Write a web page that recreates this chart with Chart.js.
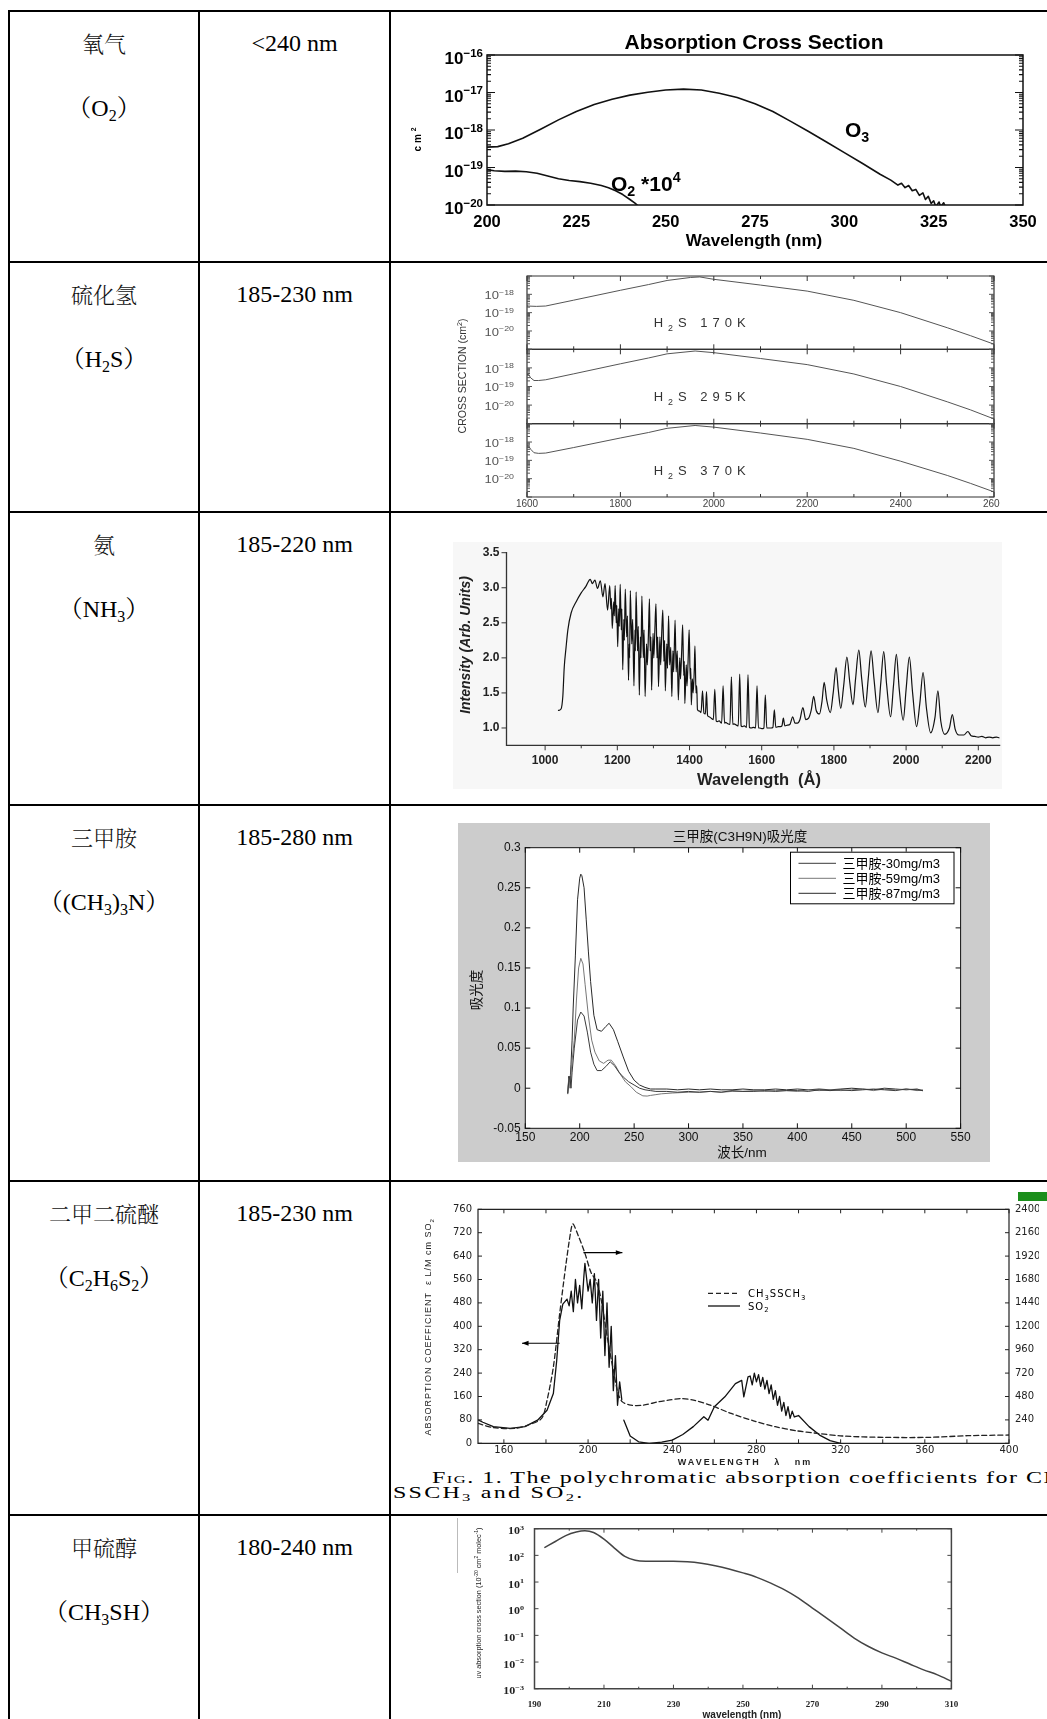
<!DOCTYPE html>
<html><head><meta charset="utf-8">
<script src="https://cdn.jsdelivr.net/npm/chart.js@4.4.1/dist/chart.umd.min.js"></script>
<style>
html,body{margin:0;padding:0;background:#fff;}
body{width:1047px;height:1719px;position:relative;overflow:hidden;}
.hl{position:absolute;left:8px;width:1100px;height:2px;background:#000;}
.vl{position:absolute;top:10px;width:2px;height:1720px;background:#000;}
.t{position:absolute;text-align:center;white-space:nowrap;line-height:30px;height:30px;}
.c1{left:10px;width:188px;}
.c2{left:200px;width:189px;}
.cn{font-family:"Noto Serif CJK SC","Noto Sans CJK SC";font-size:22px;font-weight:300;color:#111;}
.fm{font-family:"Liberation Serif","Noto Serif CJK SC","Noto Sans CJK SC";font-size:24px;color:#000;}
.fm sub{font-size:16px;vertical-align:-5px;line-height:0;}
.cap{position:absolute;font-family:"Liberation Serif";font-size:16px;letter-spacing:1.5px;transform:scaleX(1.5);transform-origin:0 0;white-space:nowrap;line-height:18px;color:#000;}
.cap sub{font-size:11px;vertical-align:-3px;line-height:0;}
canvas{position:absolute;}
</style></head><body>
<div id="grid"></div>
<script>
// ---------------- table content ----------------
const gasNames = ['氧气','硫化氢','氨','三甲胺','二甲二硫醚','甲硫醇'];
const gasFormulas = ['（O_{2}）','（H_{2}S）','（NH_{3}）','（(CH_{3})_{3}N）','（C_{2}H_{6}S_{2}）','（CH_{3}SH）'];
const bandRanges = ['<240 nm','185-230 nm','185-220 nm','185-280 nm','185-230 nm','180-240 nm'];

// ---------------- chart data ----------------
// O3 / O2 absorption cross section (cm^2) vs wavelength (nm)
const o3Cross = [[200,3.5e-19],[203,3.6e-19],[206,4.3e-19],[210,6.0e-19],[215,1.05e-18],[220,1.86e-18],[225,3.1e-18],[230,4.8e-18],[235,6.6e-18],[240,8.5e-18],[245,1.02e-17],[250,1.17e-17],[255,1.23e-17],[260,1.17e-17],[265,9.6e-18],[270,7.4e-18],[275,5.0e-18],[280,3.1e-18],[285,1.7e-18],[290,9.1e-19],[295,4.8e-19],[300,2.5e-19],[305,1.3e-19],[310,6.6e-20],[313,4.6e-20],[315,3.4e-20],[316,3.8e-20],[317,2.9e-20],[318,3.3e-20],[319,2.4e-20],[320,2.6e-20],[321,1.8e-20],[322,2.1e-20],[322.7,1.4e-20],[323.5,1.7e-20],[324.3,1.1e-20],[325,1.3e-20],[325.6,9e-21],[326.5,1.2e-20],[327,9e-21],[327.8,1.15e-20],[328.3,9e-21]];
const o2Cross = [[200,8.8e-20],[202,8.2e-20],[205,7.9e-20],[208,8.0e-20],[211,7.7e-20],[214,7.0e-20],[217,5.9e-20],[220,5.0e-20],[223,4.5e-20],[226,4.2e-20],[229,3.8e-20],[232,3.3e-20],[234,2.9e-20],[236,2.4e-20],[238,1.9e-20],[240,1.4e-20],[241.5,1.1e-20],[242.5,9e-21]];
const o2XTicks = [200,225,250,275,300,325,350];
const o2YTicks = [1e-20,1e-19,1e-18,1e-17,1e-16];

// H2S cross section (cm^2) vs wavelength (Å), three temperatures
const h2s170 = [[1600,2.3e-19],[1620,2.2e-19],[1640,2.3e-19],[1700,4.8e-19],[1800,1.66e-18],[1860,3.4e-18],[1900,5.7e-18],[1950,8.3e-18],[1970,8.9e-18],[2000,6.6e-18],[2100,3.2e-18],[2200,1.5e-18],[2300,4.7e-19],[2400,1.0e-19],[2500,1.5e-20],[2550,5.5e-21],[2600,1.9e-21]];
const h2s295 = [[1600,4.3e-19],[1603,4.6e-19],[1608,2.9e-19],[1615,2.1e-19],[1625,2.1e-19],[1640,2.3e-19],[1700,4.8e-19],[1800,1.66e-18],[1860,3.4e-18],[1900,5.7e-18],[1960,8.1e-18],[2000,6.6e-18],[2100,3.2e-18],[2200,1.5e-18],[2300,4.7e-19],[2400,1.0e-19],[2500,1.5e-20],[2550,5.5e-21],[2600,1.8e-21]];
const h2s370 = [[1600,6.0e-19],[1603,6.3e-19],[1608,4.0e-19],[1615,2.6e-19],[1625,2.4e-19],[1640,2.5e-19],[1700,5.0e-19],[1800,1.66e-18],[1860,3.3e-18],[1900,5.6e-18],[1960,8.0e-18],[2000,6.5e-18],[2100,3.1e-18],[2200,1.4e-18],[2300,4.5e-19],[2400,9.0e-20],[2500,1.5e-20],[2550,5.5e-21],[2600,1.9e-21]];
const h2sLabels = ['H_{2}S 170K','H_{2}S 295K','H_{2}S 370K'];
const h2sXTicks = [1600,1700,1800,1900,2000,2100,2200,2300,2400,2500,2600];
const h2sYTicks = [1e-21,1e-20,1e-19,1e-18,1e-17];

// NH3 lamp intensity (arb.) vs wavelength (Å)
const nh3Intensity = [[1037,1.25],[1044,1.27],[1049,1.45],[1053,1.87],[1058,2.15],[1063,2.40],[1072,2.64],[1086,2.80],[1099,2.92],[1113,3.02],[1125,3.12],
[1131,3.06],[1138,3.11],[1145,2.99],[1153,3.10],[1160,2.87],[1166,3.06],[1173,2.68],[1179,3.03],[1182,2.7],[1183.5,2.85],[1186,2.42],[1190,2.8],[1191.5,2.6],[1194,3.03],[1197,2.5],[1198.5,2.75],[1201,2.16],[1204,2.7],[1205.5,2.45],[1208,3.05],[1211,2.4],[1212.5,2.7],[1215,1.83],[1218,2.55],[1219.5,2.25],[1222,2.98],[1226,2.3],[1228,2.6],[1231,1.68],[1233,2.2],[1234,2.0],[1236,2.96],[1240,2.2],[1242.5,2.55],[1246,1.60],[1249,2.4],[1250,2.1],[1252,2.94],[1256,2.1],[1258,2.45],[1261,1.47],[1264,2.3],[1265.5,2.0],[1268,2.88],[1272,2.0],[1274,2.4],[1277,1.45],[1281,2.2],[1283,1.9],[1286,2.3],[1289,2.84],[1291,2.1],[1293,2.3],[1295,1.54],[1299,2.35],[1301,2.0],[1304,2.4],[1307,2.77],[1310,2.0],[1312,2.3],[1314,1.59],[1318,2.3],[1320,1.9],[1323,2.35],[1326,2.68],[1329,1.95],[1331,2.25],[1333,1.53],[1337,2.2],[1339,1.85],[1342,2.60],[1345,1.9],[1348,2.15],[1351,1.45],[1354,2.1],[1356,1.8],[1360,2.54],[1363,1.8],[1366,2.1],[1369,1.40],[1373,2.0],[1375,1.7],[1378,2.05],[1381,2.47],[1384,1.75],[1385.5,1.95],[1387,1.35],[1391,1.9],[1393,1.6],[1396,1.95],[1399,2.40],[1402,1.7],[1403.5,1.85],[1405,1.33],[1408,1.7],[1410,1.5],[1413,1.8],[1415,2.17],[1418,1.5],[1420,1.6],[1422,1.26],
[1428,1.24],[1432,1.22],[1436,1.53],[1440,1.21],[1444,1.20],[1447,1.52],[1450,1.18],[1454,1.16],[1460,1.14],[1466,1.12],[1470,1.55],[1474,1.10],[1477,1.09],[1482,1.10],[1489,1.07],[1493,1.60],[1497,1.07],[1500,1.08],[1506,1.06],[1512,1.05],[1516,1.73],[1520,1.05],[1523,1.06],[1530,1.04],[1535,1.03],[1539,1.77],[1543,1.03],[1546,1.02],[1552,1.03],[1558,1.01],[1562,1.76],[1566,1.01],[1571,1.00],[1577,1.01],[1583,1.00],[1587,1.60],[1591,1.00],[1594,1.00],[1600,0.99],[1606,1.00],[1610,1.47],[1614,1.00],[1619,1.00],[1626,1.00],[1631,1.01],[1635,1.26],[1639,1.01],[1646,1.02],[1652,1.02],[1656,1.03],[1660,1.14],[1664,1.03],[1671,1.04],[1678,1.05],[1686,1.16],[1692,1.07],[1699,1.07],
[1706,1.12],[1714,1.29],[1722,1.12],[1730,1.14],[1737,1.25],[1744,1.45],[1751,1.25],[1760,1.20],[1767,1.38],[1773,1.65],[1780,1.40],[1790,1.22],[1798,1.50],[1806,1.86],[1812,1.55],[1819,1.28],[1827,1.60],[1836,2.01],[1844,1.65],[1853,1.33],[1860,1.70],[1869,2.11],[1877,1.70],[1887,1.30],[1895,1.70],[1903,2.10],[1911,1.70],[1922,1.22],[1930,1.65],[1938,2.09],[1946,1.62],[1957,1.16],[1965,1.60],[1973,2.05],[1981,1.55],[1992,1.11],[2000,1.55],[2009,2.01],[2018,1.50],[2029,1.02],[2038,1.35],[2047,1.79],[2056,1.30],[2068,0.93],[2080,1.15],[2088,1.53],[2096,1.10],[2107,0.91],[2120,1.00],[2128,1.19],[2136,0.98],[2146,0.90],[2160,0.90],[2171,0.95],[2180,0.89],[2190,0.88],[2200,0.87],[2210,0.88],[2220,0.86],[2230,0.87],[2240,0.86],[2250,0.87],[2258,0.86]];
const nh3XTicks = [1000,1100,1200,1300,1400,1500,1600,1700,1800,1900,2000,2100,2200];
const nh3YTicks = [1.0,1.5,2.0,2.5,3.0,3.5];

// Trimethylamine absorbance vs wavelength (nm)
const tma30 = [[189,-0.007],[190,0.01],[191,0.015],[192,0.0],[193,0.02],[195,0.05],[198,0.085],[201,0.095],[204,0.09],[207,0.07],[210,0.045],[213,0.03],[216,0.022],[220,0.022],[224,0.027],[228,0.033],[232,0.028],[236,0.02],[240,0.014],[245,0.008],[250,0.004],[255,0.0],[260,-0.002],[265,-0.003],[270,-0.004],[280,-0.004],[290,-0.005],[300,-0.004],[310,-0.005],[320,-0.004],[330,-0.005],[340,-0.003],[350,-0.004],[360,-0.004],[370,-0.003],[380,-0.004],[390,-0.003],[400,-0.003],[410,-0.004],[420,-0.002],[430,-0.003],[440,-0.002],[450,-0.003],[460,-0.002],[470,-0.001],[480,-0.002],[490,-0.003],[500,-0.001],[510,-0.002],[515,-0.003]];
const tma59 = [[189,-0.005],[190,0.012],[191,0.0],[192,0.018],[193,0.035],[195,0.06],[197,0.11],[199,0.15],[201,0.162],[203,0.155],[205,0.129],[208,0.09],[211,0.06],[214,0.045],[218,0.034],[222,0.031],[226,0.035],[229,0.035],[233,0.028],[237,0.018],[242,0.008],[247,0.002],[252,-0.005],[258,-0.0095],[262,-0.0098],[265,-0.009],[270,-0.008],[275,-0.007],[285,-0.006],[300,-0.005],[310,-0.005],[320,-0.004],[330,-0.005],[340,-0.004],[350,-0.004],[360,-0.003],[370,-0.004],[380,-0.003],[390,-0.003],[400,-0.004],[410,-0.002],[420,-0.003],[430,-0.002],[440,-0.003],[450,-0.002],[460,-0.001],[470,-0.003],[480,-0.001],[490,-0.002],[500,-0.001],[510,-0.003],[515,-0.002]];
const tma87 = [[189,-0.006],[190,0.015],[191,0.005],[192,0.03],[193,0.06],[194,0.10],[196,0.165],[198,0.235],[200,0.262],[201,0.267],[202,0.265],[204,0.25],[206,0.21],[208,0.17],[210,0.133],[213,0.091],[216,0.073],[220,0.071],[224,0.077],[227,0.081],[231,0.073],[235,0.058],[240,0.039],[245,0.021],[250,0.01],[255,0.004],[260,0.001],[265,-0.001],[270,-0.001],[280,-0.001],[290,-0.002],[300,-0.001],[310,-0.002],[320,-0.001],[330,-0.002],[340,-0.002],[350,-0.001],[360,-0.002],[370,-0.002],[380,-0.001],[390,-0.002],[400,-0.001],[410,-0.002],[420,-0.001],[430,-0.002],[440,-0.001],[450,0.0],[460,-0.001],[470,-0.002],[480,0.0],[490,-0.001],[500,-0.002],[510,-0.001],[515,-0.003]];
const tmaLabels = ['三甲胺-30mg/m3','三甲胺-59mg/m3','三甲胺-87mg/m3'];
const tmaXTicks = [150,200,250,300,350,400,450,500,550];
const tmaYTicks = [-0.05,0,0.05,0.1,0.15,0.2,0.25,0.3];

// Dimethyl disulfide (right axis) and SO2 (left axis) absorption coefficients vs wavelength (nm)
const dmdsCoef = [[147.7,204],[154.6,163],[165,153],[171.5,187],[177.9,255],[180.5,442],[183.5,782],[186.5,1327],[189.5,1837],[191.8,2177],[192.8,2251],[195.4,2126],[198.4,1956],[201.4,1752],[203.8,1667],[206,1497],[209.4,1054],[212.3,714],[214.3,510],[216.3,425],[220.3,391],[226.3,391],[233.2,425],[238.2,442],[244.2,459],[250.1,442],[258.1,391],[268,306],[278.6,231],[289,170],[298.9,129],[308.9,102],[320.8,75],[340.7,61],[361.6,61],[380.5,78],[400,85]];
const so2Coef = [[148,79],[150,72],[155,57],[163,51],[170,57],[176,79],[180.5,113],[183.5,170],[185.1,283],[186.5,420],[188,476],[190,493],[191,470],[192,520],[193,450],[194,560],[195,480],[196,540],[197,460],[198,570],[198.5,615],[200,520],[201,560],[202,480],[203,580],[204,420],[205,560],[206,360],[207,520],[208,300],[209,480],[210,260],[211,400],[212,180],[213,300],[214,130],[215,210],[216,150],[216.5,null],[217,79],[220,25],[224,5],[229,0],[235,4],[240,11],[245,30],[250,57],[255,91],[257,79],[260,125],[265,159],[270,204],[273,215],[274,159],[276,227],[277,230],[278,200],[279,240],[280,210],[281,235],[282,195],[283,225],[284,185],[285,215],[286,170],[287,200],[288,150],[289,180],[290,130],[291,160],[292,110],[293,140],[294,95],[295,125],[296,85],[297,110],[298,90],[300,95],[305,57],[310,28],[315,9],[320,0]];
const dmdsSeriesLabels = ['CH_{3}SSCH_{3}','SO_{2}'];
const dmdsXTicks = [160,180,200,220,240,260,280,300,320,340,360,380,400];
const dmdsLeftTicks = [0,80,160,240,320,400,480,560,640,720,800];
const dmdsLeftLabels = ['0','80','160','240','320','400','480','560','640','720','760'];
const dmdsRightTicks = [0,240,480,720,960,1200,1440,1680,1920,2160,2400];

// CH3SH UV absorption cross section (1e-20 cm^2 molec^-1) vs wavelength (nm)
const ch3shCross = [[193,200],[196,331],[199,550],[202,750],[204.5,841],[207,724],[210,407],[213,188],[216,91],[219,65],[222,60],[226,60],[230,60],[234,58],[238,51],[242,41],[246,31],[250,22],[254,15],[258,9.1],[262,5.1],[266,2.5],[270,1.06],[274,0.45],[278,0.19],[282,0.079],[286,0.039],[290,0.022],[294,0.014],[298,0.0084],[302,0.0051],[306,0.0033],[310,0.0019]];
const ch3shXTicks = [190,200,210,220,230,240,250,260,270,280,290,300,310];
const ch3shYTicks = [1e-3,1e-2,1e-1,1,10,100,1000];

// ---------------- table layout ----------------
const rowLines = [10,261,511,804,1180,1514];
const colLines = [8,198,389];
function richHTML(s){ return s.replace(/</g,'&lt;').replace(/_\{([^}]*)\}/g,'<sub>$1</sub>'); }
(function(){
  const g = document.getElementById('grid');
  let h = '';
  rowLines.forEach(y => { h += `<div class="hl" style="top:${y}px"></div>`; });
  colLines.forEach(x => { h += `<div class="vl" style="left:${x}px"></div>`; });
  rowLines.forEach((y,i) => {
    h += `<div class="t c1 cn" style="top:${y+18}px">${gasNames[i]}</div>`;
    h += `<div class="t c2 fm" style="top:${y+18}px">${richHTML(bandRanges[i])}</div>`;
    h += `<div class="t c1 fm" style="top:${y+83}px">${richHTML(gasFormulas[i])}</div>`;
  });
  h += `<div class="cap" style="left:432px;top:1469px;letter-spacing:1px;">F<span style="font-variant:small-caps">ig</span>. 1. The polychromatic absorption coefficients for CH</div>`;
  h += `<div class="cap" style="left:393px;top:1484px;">SSCH<sub>3</sub> and SO<sub>2</sub>.</div>`;
  h += `<div style="position:absolute;left:1018px;top:1192px;width:29px;height:9px;background:#1b8e1b"></div>`;
  h += `<div style="position:absolute;left:457px;top:1518px;width:1px;height:55px;background:#bbb"></div>`;
  g.innerHTML = h;
})();

// ---------------- helpers ----------------
const FS = '"Liberation Sans", Arial, sans-serif';
const FN = '"Liberation Sans Narrow", "Liberation Sans", sans-serif';
const FC = '"Liberation Sans", "Noto Sans CJK SC", sans-serif';
const FD = '"DejaVu Sans", sans-serif';
const FSer = '"Liberation Serif", serif';
const xy = arr => arr.map(p => ({x: p[0], y: p[1]}));
const expOf = v => Math.round(Math.log10(v));
const pow10Rich = v => '10^{' + String(expOf(v)).replace('-', '−') + '}';
const isPow10 = v => Math.abs(Math.log10(v) - Math.round(Math.log10(v))) < 1e-6;
function logTicks(majors){ const out = majors.slice(); for (let i=0;i<majors.length-1;i++) for (let k=2;k<10;k++) out.push(majors[i]*k); return out; }
function ticksFrom(values, majorTest){ return s => { s.ticks = values.slice().sort((a,b)=>a-b).map(v => ({value:v, major: majorTest ? !!majorTest(v) : true})); }; }
function fixY(w){ return s => { s.width = w; s.paddingTop = 0; s.paddingBottom = 0; }; }
function fixX(h){ return s => { s.height = h; s.paddingLeft = 0; s.paddingRight = 0; }; }
function tk(o, cb){ return {autoSkip:false, maxRotation:0, minRotation:0, padding:o.padding||0, color:o.color||'#000', font:{family:o.family||FS, size:o.size||12, weight:o.weight||'normal', style:o.style||'normal'}, callback:cb}; }
function axis(o){ return Object.assign({grid:{display:false, drawTicks:false}, border:{display:false}}, o); }
const noLabel = () => '';

function parseRich(s){
  const segs = []; let i = 0, buf = '';
  while (i < s.length) {
    const c = s[i];
    if ((c === '_' || c === '^') && s[i+1] === '{') {
      if (buf) { segs.push({t:buf, m:0}); buf=''; }
      const j = s.indexOf('}', i);
      segs.push({t:s.slice(i+2,j), m: c === '_' ? 1 : -1});
      i = j + 1;
    } else { buf += c; i++; }
  }
  if (buf) segs.push({t:buf, m:0});
  return segs;
}
function drawRich(ctx, s, x, y, o){
  const size = o.size || 12, fam = o.family || FS, w = o.weight || 'normal', st = o.style || 'normal';
  const f = sz => `${st} ${w} ${sz}px ${fam}`;
  const segs = parseRich(s);
  ctx.save();
  ctx.translate(x, y);
  if (o.rotate) ctx.rotate(o.rotate);
  if (o.sx) ctx.scale(o.sx, 1);
  ctx.fillStyle = o.color || '#000';
  ctx.textBaseline = 'alphabetic'; ctx.textAlign = 'left';
  if ('letterSpacing' in ctx) ctx.letterSpacing = (o.ls || 0) + 'px';
  let total = 0;
  segs.forEach(g => { ctx.font = f(g.m ? size*0.68 : size); g.w = ctx.measureText(g.t).width; total += g.w; });
  let cx = o.align === 'left' ? 0 : (o.align === 'right' ? -total : -total/2);
  const base = size * 0.36;
  segs.forEach(g => {
    ctx.font = f(g.m ? size*0.68 : size);
    const dy = g.m === 1 ? size*0.28 : (g.m === -1 ? -size*0.42 : 0);
    ctx.fillText(g.t, cx, base + dy);
    cx += g.w;
  });
  ctx.restore();
}

const decoMap = new Map();
const deco = {
  id: 'deco',
  beforeDraw(chart){
    const o = decoMap.get(chart.canvas); if (!o) return;
    const ctx = chart.ctx, a = chart.chartArea;
    ctx.save();
    if (o.canvasBg) { ctx.fillStyle = o.canvasBg; ctx.fillRect(0,0,chart.width,chart.height); }
    (o.rects||[]).forEach(r => { ctx.fillStyle = r.color; ctx.fillRect(r.x1-o.ox, r.y1-o.oy, r.x2-r.x1, r.y2-r.y1); });
    if (o.plotBg) { ctx.fillStyle = o.plotBg; ctx.fillRect(a.left, a.top, a.right-a.left, a.bottom-a.top); }
    ctx.restore();
  },
  afterDraw(chart){
    const o = decoMap.get(chart.canvas); if (!o) return;
    const ctx = chart.ctx, a = chart.chartArea;
    if (o.frame) {
      const f = o.frame, sides = f.sides || ['left','right','top','bottom'];
      ctx.save(); ctx.strokeStyle = f.color || '#000'; ctx.lineWidth = f.width || 1; ctx.lineCap = 'square';
      ctx.beginPath();
      if (sides.includes('left')) { ctx.moveTo(a.left, a.top); ctx.lineTo(a.left, a.bottom); }
      if (sides.includes('right')) { ctx.moveTo(a.right, a.top); ctx.lineTo(a.right, a.bottom); }
      if (sides.includes('top')) { ctx.moveTo(a.left, a.top); ctx.lineTo(a.right, a.top); }
      if (sides.includes('bottom')) { ctx.moveTo(a.left, a.bottom); ctx.lineTo(a.right, a.bottom); }
      ctx.stroke(); ctx.restore();
    }
    (o.ticks||[]).forEach(sp => {
      const s = chart.scales[sp.scale];
      ctx.save(); ctx.strokeStyle = sp.color || (o.frame && o.frame.color) || '#000'; ctx.lineWidth = sp.width || 1;
      ctx.beginPath();
      const sign = sp.out ? -1 : 1;
      s.ticks.forEach(t => {
        const p = s.getPixelForValue(t.value);
        const len = t.major ? sp.len : (sp.minorLen == null ? sp.len : sp.minorLen);
        if (!len) return;
        sp.sides.forEach(side => {
          if (side === 'bottom') { ctx.moveTo(p, a.bottom); ctx.lineTo(p, a.bottom - sign*len); }
          if (side === 'top') { ctx.moveTo(p, a.top); ctx.lineTo(p, a.top + sign*len); }
          if (side === 'left') { ctx.moveTo(a.left, p); ctx.lineTo(a.left + sign*len, p); }
          if (side === 'right') { ctx.moveTo(a.right, p); ctx.lineTo(a.right - sign*len, p); }
        });
      });
      ctx.stroke(); ctx.restore();
    });
    // rich (superscript) tick labels for logarithmic axes, placed by the scale
    (o.tickLabels||[]).forEach(sp => {
      const s = chart.scales[sp.scale];
      s.ticks.forEach(t => {
        const txt = sp.fmt(t.value, t); if (!txt) return;
        const p = s.getPixelForValue(t.value);
        const opt = {size:sp.size, family:sp.family, weight:sp.weight, color:sp.color, sx:sp.sx, ls:sp.ls};
        if (sp.side === 'left') { opt.align = 'right'; drawRich(ctx, txt, a.left - sp.pad, p + (sp.dy||0), opt); }
        else { opt.align = 'left'; drawRich(ctx, txt, a.right + sp.pad, p + (sp.dy||0), opt); }
      });
    });
    (o.arrows||[]).forEach(ar => {
      const xs = chart.scales[ar.xs||'x'], ys = chart.scales[ar.ys||'y'];
      const x1 = xs.getPixelForValue(ar.from[0]), y1 = ys.getPixelForValue(ar.from[1]);
      const x2 = xs.getPixelForValue(ar.to[0]), y2 = ys.getPixelForValue(ar.to[1]);
      const ang = Math.atan2(y2-y1, x2-x1), hl = ar.head || 6;
      ctx.save(); ctx.strokeStyle = ar.color || '#000'; ctx.fillStyle = ar.color || '#000'; ctx.lineWidth = 1.2;
      ctx.beginPath(); ctx.moveTo(x1,y1); ctx.lineTo(x2,y2); ctx.stroke();
      ctx.beginPath(); ctx.moveTo(x2,y2);
      ctx.lineTo(x2 - hl*Math.cos(ang-0.35), y2 - hl*Math.sin(ang-0.35));
      ctx.lineTo(x2 - hl*Math.cos(ang+0.35), y2 - hl*Math.sin(ang+0.35));
      ctx.closePath(); ctx.fill(); ctx.restore();
    });
    if (o.legend) {
      const L = o.legend;
      ctx.save();
      if (L.box) {
        ctx.fillStyle = '#fff'; ctx.strokeStyle = '#000'; ctx.lineWidth = 1;
        ctx.fillRect(L.box[0]-o.ox, L.box[1]-o.oy, L.box[2]-L.box[0], L.box[3]-L.box[1]);
        ctx.strokeRect(L.box[0]-o.ox+0.5, L.box[1]-o.oy+0.5, L.box[2]-L.box[0], L.box[3]-L.box[1]);
      }
      L.items.forEach(it => {
        const ds = chart.data.datasets[it.ds];
        const yy = it.y - o.oy;
        ctx.strokeStyle = ds.borderColor; ctx.lineWidth = ds.borderWidth || 1;
        ctx.setLineDash(ds.borderDash || []);
        ctx.beginPath(); ctx.moveTo(L.lineX[0]-o.ox, yy); ctx.lineTo(L.lineX[1]-o.ox, yy); ctx.stroke();
        ctx.setLineDash([]);
        drawRich(ctx, ds.label, L.textX - o.ox, yy, {size:L.size, family:L.family, align:'left', color:L.color||'#000', ls:L.ls||0});
      });
      ctx.restore();
    }
    (o.texts||[]).forEach(t => {
      let x, y;
      if (t.data) { x = chart.scales[t.xs||'x'].getPixelForValue(t.x); y = chart.scales[t.ys||'y'].getPixelForValue(t.y); }
      else { x = t.x - o.ox; y = t.y - o.oy; }
      drawRich(ctx, t.s, x, y, t);
    });
  }
};

function makeChart(cfg){
  const cv = document.createElement('canvas');
  cv.width = cfg.w; cv.height = cfg.h;
  cv.style.left = cfg.x + 'px'; cv.style.top = cfg.y + 'px';
  cv.style.width = cfg.w + 'px'; cv.style.height = cfg.h + 'px';
  document.body.appendChild(cv);
  const p = cfg.plot, yl = cfg.yl || 0, yr = cfg.yr || 0, xh = cfg.xh || 0;
  const padding = {left: p.L - cfg.x - yl, right: cfg.x + cfg.w - p.R - yr, top: p.T - cfg.y, bottom: cfg.y + cfg.h - p.B - xh};
  decoMap.set(cv, Object.assign({ox: cfg.x, oy: cfg.y}, cfg.deco));
  return new Chart(cv, {
    type: 'line',
    data: {datasets: cfg.datasets},
    options: {
      responsive: false, animation: false, devicePixelRatio: 1, events: [],
      layout: {padding},
      plugins: {legend: {display: false}, title: {display: false}, tooltip: {enabled: false}},
      elements: {point: {radius: 0}, line: {borderJoinStyle: 'round', borderCapStyle: 'round'}},
      scales: cfg.scales
    },
    plugins: [deco]
  });
}

// ---------------- Chart 1: O3 / O2 ----------------
makeChart({x:392, y:13, w:655, h:247, plot:{L:487, T:55, R:1023, B:205}, yl:60, xh:30,
  datasets: [
    {label:'O3', data: xy(o3Cross), borderColor:'#111', borderWidth:1.6, fill:false},
    {label:'O2 *10^4', data: xy(o2Cross), borderColor:'#111', borderWidth:1.6, fill:false}
  ],
  scales: {
    x: axis({type:'linear', min:200, max:350, afterBuildTicks: ticksFrom(o2XTicks), afterFit: fixX(30), ticks: tk({padding:7.6, size:16.5, weight:'bold'}, v => String(v))}),
    y: axis({type:'logarithmic', min:1e-20, max:1e-16, afterBuildTicks: ticksFrom(logTicks(o2YTicks), isPow10), afterFit: fixY(60), ticks: tk({padding:4, size:15, weight:'bold'}, noLabel)})
  },
  deco: {
    frame: {width:1.5, color:'#111'},
    ticks: [{scale:'y', sides:['left','right'], len:8, minorLen:4, width:1.1}],
    tickLabels: [{scale:'y', side:'left', pad:4, dy:3, size:17, weight:'bold', color:'#000', fmt:(v,t) => t.major ? pow10Rich(v) : ''}],
    texts: [
      {s:'Absorption Cross Section', x:754, y:41, size:21, weight:'bold'},
      {s:'Wavelength (nm)', x:754, y:240, size:17, weight:'bold'},
      {s:'cm^{2}', x:417, y:138, size:10, weight:'bold', rotate:-Math.PI/2, ls:3},
      {s:'O_{3}', x:845, y:129, size:21, weight:'bold', align:'left'},
      {s:'O_{2} *10^{4}', x:611, y:183, size:21, weight:'bold', align:'left'}
    ]
  }
});

// ---------------- Chart 2: H2S (three stacked panels) ----------------
const h2sSets = [h2s170, h2s295, h2s370];
const h2sPanels = [{T:276, B:349.3}, {T:349.3, B:423.7}, {T:423.7, B:497}];
h2sSets.forEach((set, k) => {
  const last = k === 2;
  const texts = [{s:h2sLabels[k], x:1975, y:2.8e-20, data:true, size:13, ls:5, color:'#333'}];
  if (k === 1) texts.push({s:'CROSS SECTION (cm^{2})', x:462.7, y:376, size:10.5, family:FN, rotate:-Math.PI/2, color:'#333'});
  makeChart({x:392, y:263, w:608, h:248, plot:{L:527, T:h2sPanels[k].T, R:994, B:h2sPanels[k].B}, yl:50, xh: last ? 10 : 0,
    datasets: [{label:h2sLabels[k], data: xy(set), borderColor:'#555', borderWidth:1, fill:false}],
    scales: {
      x: axis({type:'linear', min:1600, max:2600, afterBuildTicks: ticksFrom(h2sXTicks, v => v % 200 === 0), afterFit: fixX(last ? 10 : 0), ticks: tk({padding:1.5, size:10, color:'#444'}, (v,i,t) => (last && t[i].major) ? String(v) : '')}),
      y: axis({type:'logarithmic', min:1e-21, max:1e-17, afterBuildTicks: ticksFrom(logTicks(h2sYTicks), isPow10), afterFit: fixY(50), ticks: tk({padding:14, size:9, color:'#555'}, noLabel)})
    },
    deco: {
      frame: {width:1.2, color:'#333'},
      ticks: [
        {scale:'y', sides:['left','right'], len:5, minorLen:3, color:'#555'},
        {scale:'x', sides:['top','bottom'], len:5, minorLen:3, color:'#333'}
      ],
      tickLabels: [{scale:'y', side:'left', pad:13, dy:1, size:10, sx:1.3, color:'#555', fmt:(v,t) => (t.major && v > 5e-21 && v < 5e-18) ? pow10Rich(v) : ''}],
      texts
    }
  });
});

// ---------------- Chart 3: NH3 ----------------
makeChart({x:392, y:514, w:655, h:290, plot:{L:506.5, T:552.7, R:999.6, B:745.3}, yl:60, xh:30,
  datasets: [{label:'NH3', data: xy(nh3Intensity), borderColor:'#111', borderWidth:1.2, cubicInterpolationMode:'monotone', fill:false}],
  scales: {
    x: axis({type:'linear', min:893, max:2259, afterBuildTicks: ticksFrom(nh3XTicks, v => v % 200 === 0), afterFit: fixX(30), ticks: tk({padding:7.8, size:12, weight:'bold', color:'#222'}, (v,i,t) => t[i].major ? String(v) : '')}),
    y: axis({type:'linear', min:0.753, max:3.5, afterBuildTicks: ticksFrom(nh3YTicks), afterFit: fixY(60), ticks: tk({padding:7, size:12, weight:'bold', color:'#222'}, v => v.toFixed(1))})
  },
  deco: {
    rects: [{x1:453, y1:542, x2:1002, y2:789, color:'#f7f7f7'}],
    frame: {width:1.3, color:'#333', sides:['left','bottom']},
    ticks: [
      {scale:'x', sides:['bottom'], out:true, len:5, minorLen:3, color:'#333'},
      {scale:'y', sides:['left'], out:true, len:5, color:'#333'}
    ],
    texts: [
      {s:'Intensity (Arb. Units)', x:465, y:645, size:14, weight:'bold', style:'italic', rotate:-Math.PI/2, color:'#222'},
      {s:'Wavelength  (Å)', x:759, y:779, size:16.5, weight:'bold', color:'#222'}
    ]
  }
});

// ---------------- Chart 4: Trimethylamine ----------------
makeChart({x:458, y:823, w:532, h:339, plot:{L:525.3, T:847.7, R:960.6, B:1128.3}, yl:40, xh:20,
  datasets: [
    {label:tmaLabels[0], data: xy(tma30), borderColor:'#3a3a3a', borderWidth:1, fill:false},
    {label:tmaLabels[1], data: xy(tma59), borderColor:'#777', borderWidth:1, fill:false},
    {label:tmaLabels[2], data: xy(tma87), borderColor:'#2a2a2a', borderWidth:1, fill:false}
  ],
  scales: {
    x: axis({type:'linear', min:150, max:550, afterBuildTicks: ticksFrom(tmaXTicks), afterFit: fixX(20), ticks: tk({padding:2.2, size:12, color:'#111'}, v => String(v))}),
    y: axis({type:'linear', min:-0.05, max:0.3, afterBuildTicks: ticksFrom(tmaYTicks), afterFit: fixY(40), ticks: tk({padding:4.6, size:12, color:'#111'}, v => String(v))})
  },
  deco: {
    canvasBg: '#cccccc', plotBg: '#ffffff',
    frame: {width:1, color:'#111'},
    ticks: [
      {scale:'x', sides:['top','bottom'], len:5, color:'#111'},
      {scale:'y', sides:['left','right'], len:5, color:'#111'}
    ],
    legend: {box:[790, 851.7, 953.5, 903.3], lineX:[798.5, 836], textX:842.5, size:13, family:FC, items:[{ds:0, y:863.3},{ds:1, y:878.3},{ds:2, y:893.3}]},
    texts: [
      {s:'三甲胺(C3H9N)吸光度', x:740, y:835.7, size:13.5, family:FC, color:'#111'},
      {s:'波长/nm', x:742, y:1151.7, size:13.5, family:FC, color:'#111'},
      {s:'吸光度', x:476, y:990, size:13.5, family:FC, rotate:-Math.PI/2, color:'#111'}
    ]
  }
});

// ---------------- Chart 5: CH3SSCH3 and SO2 ----------------
makeChart({x:392, y:1183, w:655, h:287, plot:{L:478, T:1209.3, R:1009, B:1443.3}, yl:40, yr:30, xh:15,
  datasets: [
    {label:dmdsSeriesLabels[0], data: xy(dmdsCoef), yAxisID:'y2', borderColor:'#222', borderWidth:1.3, borderDash:[5,3], tension:0.3, fill:false},
    {label:dmdsSeriesLabels[1], data: xy(so2Coef), yAxisID:'y', borderColor:'#111', borderWidth:1.3, fill:false}
  ],
  scales: {
    x: axis({type:'linear', min:147.7, max:400, afterBuildTicks: ticksFrom(dmdsXTicks, v => (v - 160) % 40 === 0), afterFit: fixX(15), ticks: tk({padding:1, size:10, family:FD, color:'#222'}, (v,i,t) => t[i].major ? String(v) : '')}),
    y: axis({type:'linear', position:'left', min:0, max:800, afterBuildTicks: ticksFrom(dmdsLeftTicks), afterFit: fixY(40), ticks: tk({padding:6, size:10, family:FD, color:'#222'}, (v,i) => dmdsLeftLabels[i])}),
    y2: axis({type:'linear', position:'right', min:0, max:2400, afterBuildTicks: ticksFrom(dmdsRightTicks), afterFit: fixY(30), ticks: tk({padding:6, size:10, family:FD, color:'#222'}, v => v === 0 ? '' : String(v))})
  },
  deco: {
    frame: {width:1.2, color:'#222'},
    ticks: [
      {scale:'x', sides:['top','bottom'], len:4, color:'#222'},
      {scale:'y', sides:['left'], len:4, color:'#222'},
      {scale:'y2', sides:['right'], len:4, color:'#222'}
    ],
    arrows: [
      {from:[186.5, 342], to:[168.6, 342], head:7},
      {from:[197.8, 652], to:[216.3, 652], head:7}
    ],
    legend: {lineX:[708, 740], textX:748, size:10, family:FD, ls:1, items:[{ds:0, y:1293.3},{ds:1, y:1306}]},
    texts: [
      {s:'WAVELENGTH   λ   nm', x:745, y:1461.7, size:9, weight:'bold', ls:2, color:'#222'},
      {s:'ABSORPTION COEFFICIENT  ε L/M cm SO_{2}', x:428, y:1326.7, size:9, rotate:-Math.PI/2, ls:1, color:'#222'}
    ]
  }
});

// ---------------- Chart 6: CH3SH ----------------
makeChart({x:392, y:1517, w:655, h:202, plot:{L:534.5, T:1528.7, R:951.4, B:1688.7}, yl:40, xh:20,
  datasets: [{label:'CH3SH', data: xy(ch3shCross), borderColor:'#444', borderWidth:1.5, cubicInterpolationMode:'monotone', fill:false}],
  scales: {
    x: axis({type:'linear', min:190, max:310, afterBuildTicks: ticksFrom(ch3shXTicks, v => (v - 190) % 20 === 0), afterFit: fixX(20), ticks: tk({padding:10.6, size:9, weight:'bold', family:FSer, color:'#222'}, (v,i,t) => t[i].major ? String(v) : '')}),
    y: axis({type:'logarithmic', min:1e-3, max:1e3, afterBuildTicks: ticksFrom(ch3shYTicks), afterFit: fixY(40), ticks: tk({padding:10.5, size:9, weight:'bold', family:FSer, color:'#222'}, noLabel)})
  },
  deco: {
    frame: {width:1.5, color:'#444'},
    ticks: [
      {scale:'x', sides:['top','bottom'], len:4, minorLen:2, color:'#444'},
      {scale:'y', sides:['left','right'], len:4, color:'#444'}
    ],
    tickLabels: [{scale:'y', side:'left', pad:10.5, dy:2, size:10, weight:'bold', family:FSer, sx:1.2, color:'#222', fmt:v => pow10Rich(v)}],
    texts: [
      {s:'wavelength (nm)', x:742, y:1714, size:10, weight:'bold', color:'#222'},
      {s:'uv absorption cross section (10^{-20} cm^{2} molec^{-1})', x:478, y:1603, size:7.3, family:FN, rotate:-Math.PI/2, color:'#222'}
    ]
  }
});
</script>
</body></html>
